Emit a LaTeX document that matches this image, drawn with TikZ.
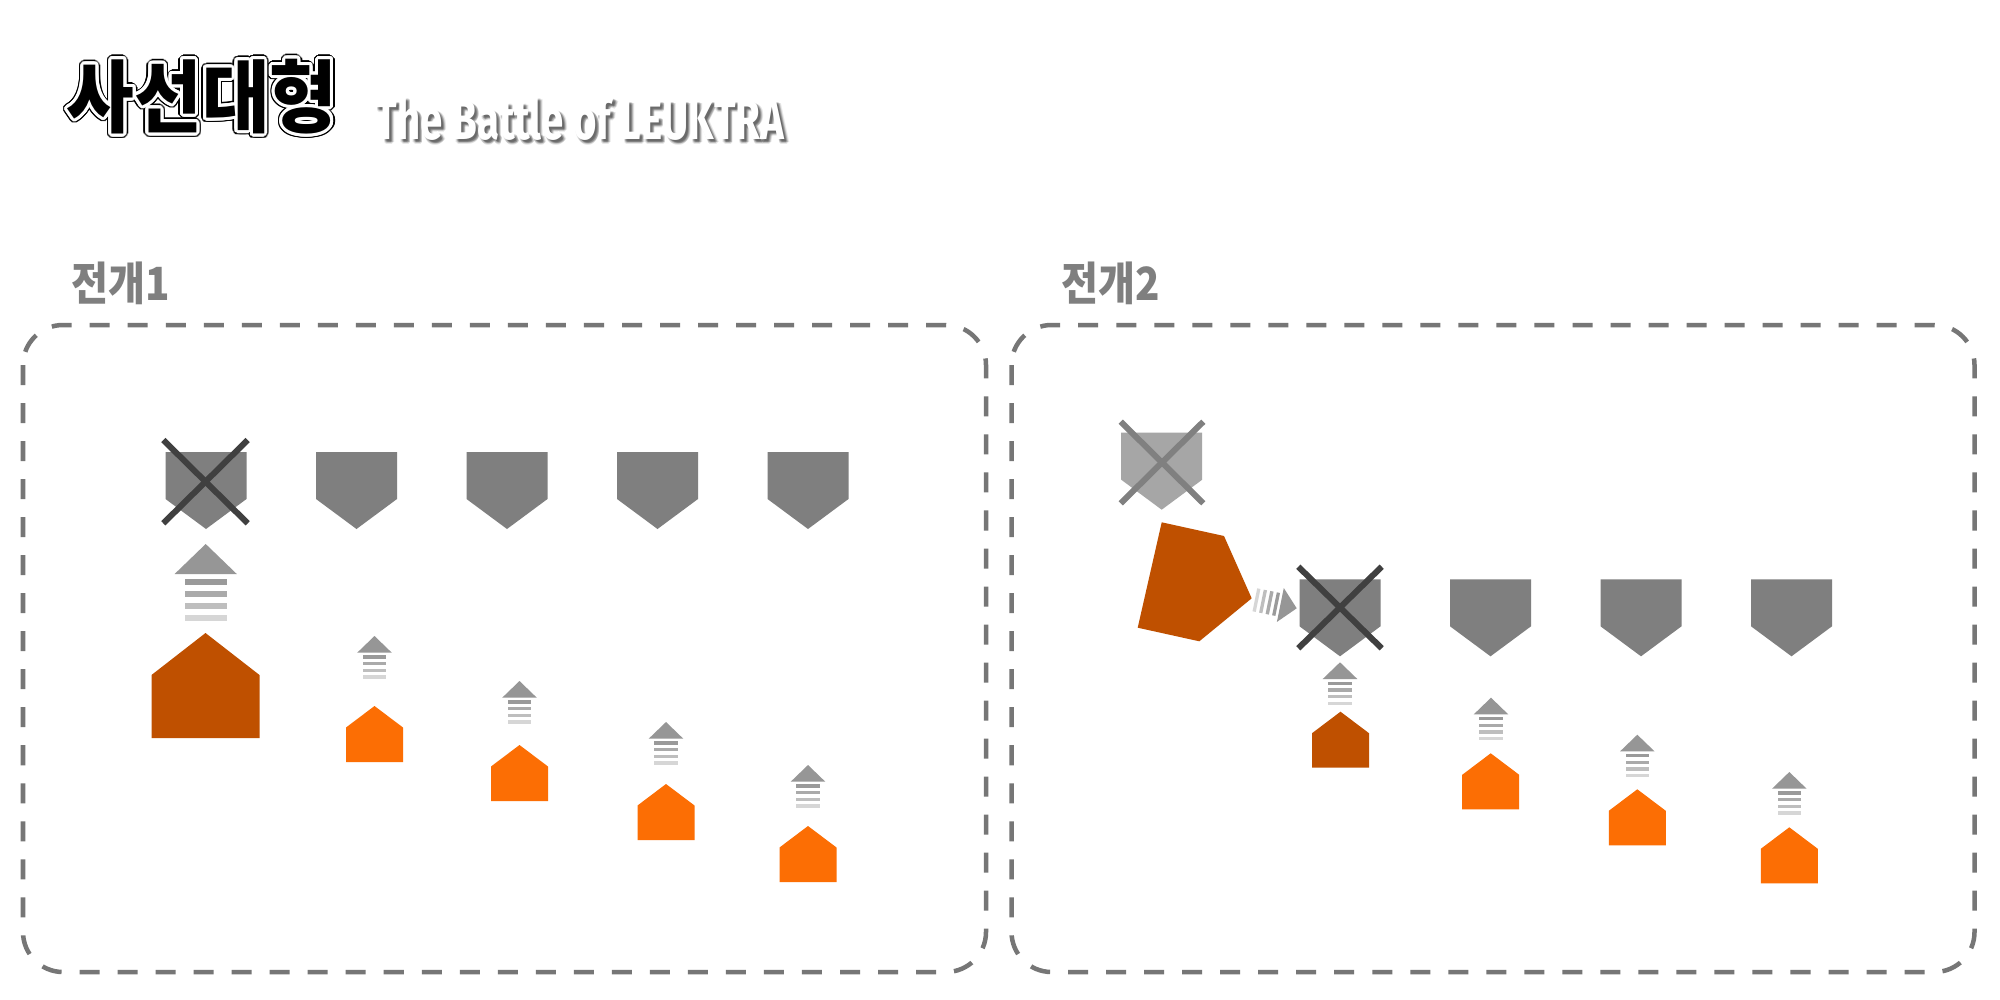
\documentclass[tikz,border=0pt]{standalone}
\usepackage{fontspec}
\usepackage{graphicx}
\setmainfont{Fira Sans}
\newfontfamily\krfont{Noto Sans CJK KR}
\definecolor{shieldgray}{HTML}{7F7F7F}
\definecolor{fadegray}{HTML}{A6A6A6}
\definecolor{xdark}{HTML}{404040}
\definecolor{xlight}{HTML}{808080}
\definecolor{orangeL}{RGB}{252,110,4}
\definecolor{orangeD}{RGB}{191,80,0}
\definecolor{boxgray}{HTML}{767676}
\definecolor{labelgray}{HTML}{7F7F7F}
\tikzset{
  xline/.style={line width=0.06cm, line cap=butt},
  framebox/.style={draw=boxgray, line width=0.045cm, rounded corners=0.4cm, dash pattern=on 0.2cm off 0.18cm},
  titletext/.style={inner sep=0pt, font=\krfont\bfseries\fontsize{22.5}{22.5}\selectfont},
  subtext/.style={inner sep=0pt, anchor=base west, font=\bfseries\fontsize{16}{16}\selectfont},
  seclabel/.style={inner sep=0pt, anchor=west, text=labelgray, font=\krfont\bfseries\fontsize{13}{13}\selectfont},
}
\newcommand\mkShield[3]{\fill[#3] (#1-40.5,#2) -- (#1+40.5,#2) -- (#1+40.5,#2+47) -- (#1,#2+77) -- (#1-40.5,#2+47) -- cycle;}
\newcommand\mkHouse[3]{\fill[#3] (#1,#2) -- (#1+28.5,#2+21.5) -- (#1+28.5,#2+56) -- (#1-28.5,#2+56) -- (#1-28.5,#2+21.5) -- cycle;}
\newcommand\mkArrow[4]{%
  \begin{scope}[shift={(#1,#2)}, rotate=#4, scale=#3]
    \fill[fill={rgb,255:red,150;green,150;blue,150}] (0,0) -- (17.3,16.7) -- (-17.3,16.7) -- cycle;
    \fill[fill={rgb,255:red,154;green,154;blue,154}] (-11.7,19.4) rectangle (11.7,22.7);
    \fill[fill={rgb,255:red,170;green,170;blue,170}] (-11.7,26) rectangle (11.7,29.4);
    \fill[fill={rgb,255:red,190;green,190;blue,190}] (-11.7,32.7) rectangle (11.7,36);
    \fill[fill={rgb,255:red,214;green,214;blue,214}] (-11.7,39.4) rectangle (11.7,42.7);
  \end{scope}}
\newcommand\titleword{\scalebox{0.93}[1]{사선대형}}
\newcommand\subword{\scalebox{0.715}[1]{The Battle of LEUKTRA}}
\newcommand\seclab[1]{\scalebox{0.88}[1]{#1}}
\begin{document}
\begin{tikzpicture}[x=0.01cm, y=-0.01cm]
\fill[white] (0,0) rectangle (2000,1000);
\useasboundingbox (0,0) rectangle (2000,1000);

% title with double outline
\foreach \a in {0,15,...,345} {
  \node[titletext, text=black] at ([shift={(\a:4.5)}]202,96.5) {\titleword};
}
\foreach \a in {0,15,...,345} {
  \node[titletext, text=white] at ([shift={(\a:3)}]202,96.5) {\titleword};
}
\node[titletext, text=black] (title) at (202,96.5) {\titleword};

% subtitle with soft shadow
\foreach \dx/\dy in {3/3.5,2/2.5,4/4.5,2/4,4/3,3/2,3/5,1.5/3.5,4.5/3.5} {
  \node[subtext, text=black, opacity=0.09] at (375+\dx,139+\dy) {\subword};
}
\node[subtext, text=white] (subtitle) at (375,139) {\subword};

% section labels
\node[seclabel] (lab1) at (71,283) {\seclab{전개1}};
\node[seclabel] (lab2) at (1061,283) {\seclab{전개2}};

% frames
\draw[framebox] (23,325) rectangle (986,972);
\draw[framebox] (1011.5,325) rectangle (1974.5,972);

% ---------- section 1 ----------
\mkShield{206}{452}{shieldgray}
\mkShield{356.5}{452}{shieldgray}
\mkShield{507}{452}{shieldgray}
\mkShield{657.5}{452}{shieldgray}
\mkShield{808}{452}{shieldgray}
\draw[xline, xdark] (163.3,440) -- (247.7,523.3);
\draw[xline, xdark] (247.7,440) -- (163.3,523.3);

\mkArrow{205.7}{544}{1.8}{0}
\fill[orangeD] (205.5,633) -- (259.5,675) -- (259.5,738) -- (151.5,738) -- (151.5,675) -- cycle;

\mkArrow{374.5}{636}{1}{0}
\mkHouse{374.5}{706}{orangeL}
\mkArrow{519.5}{681}{1}{0}
\mkHouse{519.5}{745}{orangeL}
\mkArrow{666}{722}{1}{0}
\mkHouse{666}{784}{orangeL}
\mkArrow{808}{765}{1}{0}
\mkHouse{808}{826}{orangeL}

% ---------- section 2 ----------
\mkShield{1161.7}{432.7}{fadegray}
\draw[xline, xlight] (1120.7,421.7) -- (1203.3,503.3);
\draw[xline, xlight] (1203.3,421.7) -- (1120.7,503.3);

\fill[orangeD] (1161.7,522.3) -- (1224,536) -- (1251.7,598.3) -- (1199.3,641.3) -- (1137.7,627.7) -- cycle;
\mkArrow{1296.7}{608.3}{1}{-101.5}

\mkShield{1340}{579.3}{shieldgray}
\draw[xline, xdark] (1298.3,566.7) -- (1381.7,648.3);
\draw[xline, xdark] (1381.7,566.7) -- (1298.3,648.3);
\mkShield{1490.5}{579.3}{shieldgray}
\mkShield{1641}{579.3}{shieldgray}
\mkShield{1791.5}{579.3}{shieldgray}

\mkArrow{1340}{662.3}{1}{0}
\mkHouse{1340.5}{711.7}{orangeD}
\mkArrow{1491}{697.7}{1}{0}
\mkHouse{1490.7}{753.3}{orangeL}
\mkArrow{1637.3}{734.7}{1}{0}
\mkHouse{1637.3}{789.3}{orangeL}
\mkArrow{1789.3}{772}{1}{0}
\mkHouse{1789.3}{827.3}{orangeL}
\end{tikzpicture}
\end{document}
